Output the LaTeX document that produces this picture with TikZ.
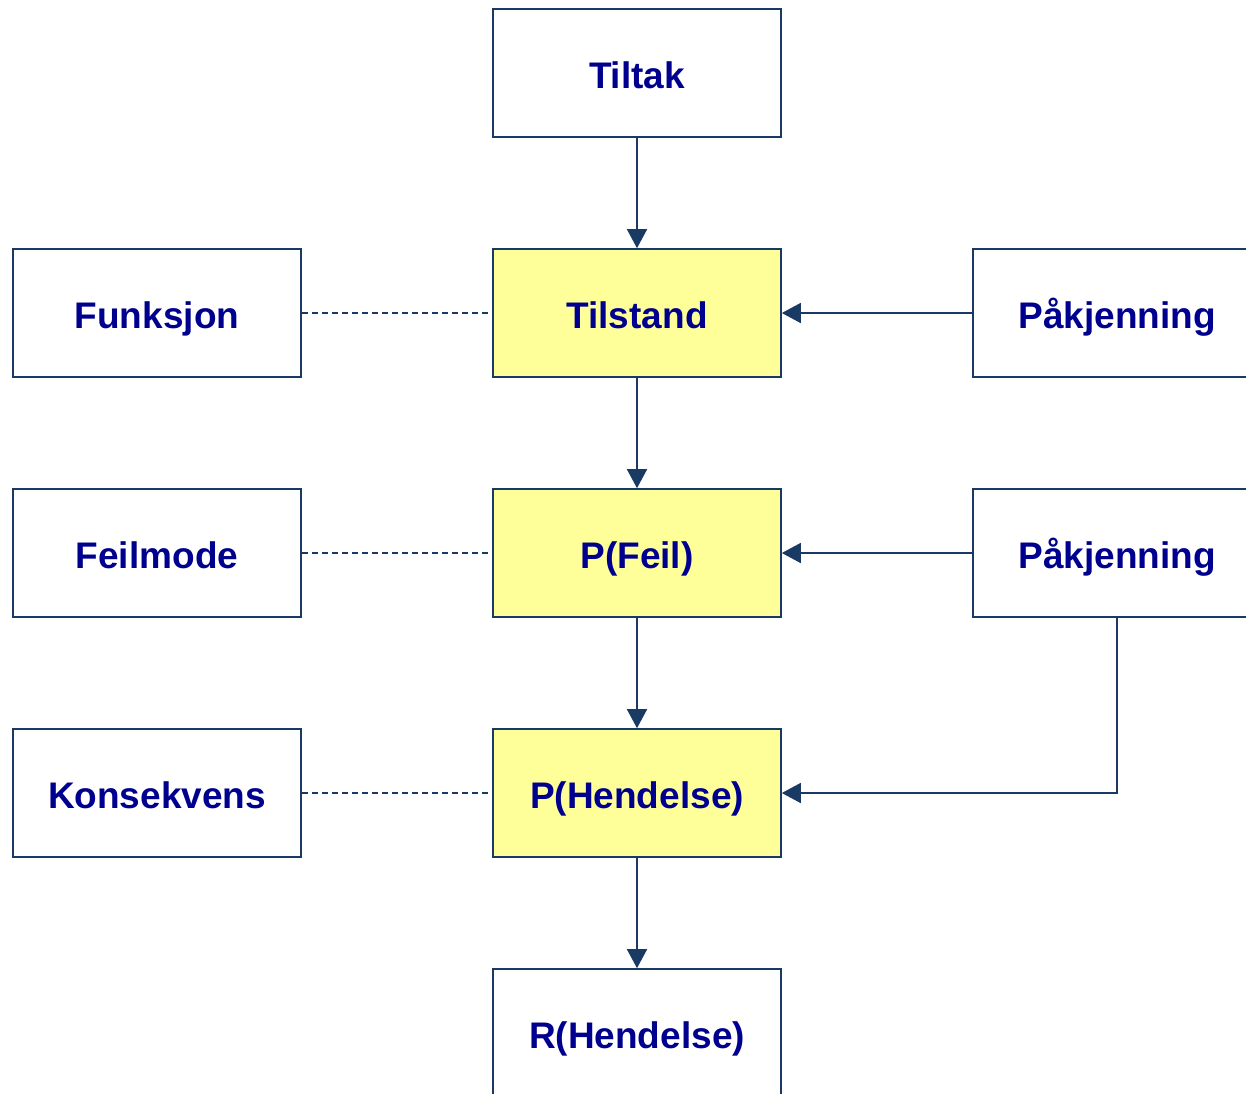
\documentclass[tikz,border=0pt]{standalone}
\usepackage{fontspec}
\setmainfont{Liberation Sans}
\usetikzlibrary{arrows.meta}
\definecolor{edgeblue}{HTML}{1A3A66}
\definecolor{textblue}{HTML}{00008F}
\definecolor{stateyellow}{HTML}{FFFF99}
\tikzset{
  block/.style={draw=edgeblue, line width=1.6pt, minimum width=288pt, minimum height=128pt,
    inner sep=0pt, text height=30pt, text depth=0pt, text=textblue,
    font=\fontsize{37}{40}\selectfont\bfseries, fill=white},
  hot/.style={block, fill=stateyellow},
  flow/.style={draw=edgeblue, line width=1.6pt, -{Triangle[length=19pt,width=20pt]}},
  link/.style={draw=edgeblue, line width=1.3pt, dash pattern=on 6pt off 4pt},
}
\begin{document}
\begin{tikzpicture}[x=1pt, y=-1pt]
\useasboundingbox (0,0) rectangle (1246,1093);
\clip (0,0) rectangle (1246,1093);
% centre column
\node[block] (tiltak)   at (637,73)   {Tiltak};
\node[hot]   (tilstand) at (637,313)  {Tilstand};
\node[hot]   (feil)     at (637,553)  {P(Feil)};
\node[hot]   (hend)     at (637,793)  {P(Hendelse)};
\node[block] (risk)     at (637,1033) {R(Hendelse)};
% left column
\node[block] (funk)  at (157,313) {Funksjon};
\node[block] (mode)  at (157,553) {Feilmode};
\node[block] (kons)  at (157,793) {Konsekvens};
% right column
\node[block] (load1) at (1117,313) {Påkjenning};
\node[block] (load2) at (1117,553) {Påkjenning};
% main chain
\draw[flow] (tiltak) -- (tilstand);
\draw[flow] (tilstand) -- (feil);
\draw[flow] (feil) -- (hend);
\draw[flow] (hend) -- (risk);
% loads
\draw[flow] (load1) -- (tilstand);
\draw[flow] (load2) -- (feil);
\draw[flow] (load2.south) |- (hend.east);
% associations
\draw[link] (funk) -- (tilstand);
\draw[link] (mode) -- (feil);
\draw[link] (kons) -- (hend);
\end{tikzpicture}
\end{document}
